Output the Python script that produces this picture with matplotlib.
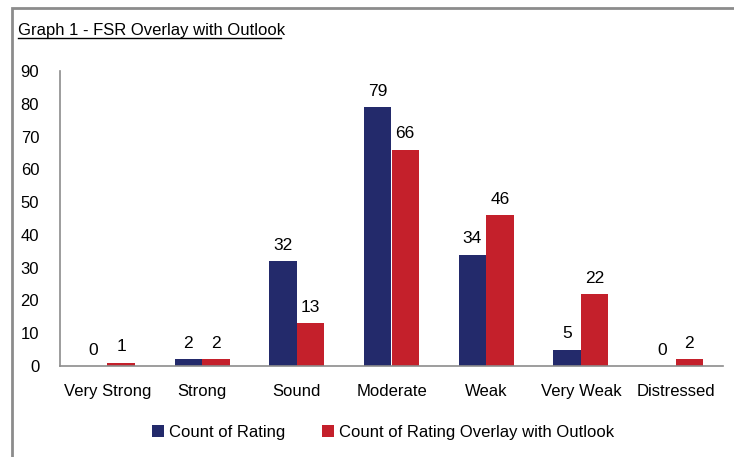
import numpy as np
import matplotlib.pyplot as plt
from matplotlib.patches import Rectangle

plt.rcParams['font.family'] = ['Liberation Sans', 'DejaVu Sans']

categories = ['Very Strong', 'Strong', 'Sound', 'Moderate', 'Weak', 'Very Weak', 'Distressed']
count_rating = [0, 2, 32, 79, 34, 5, 0]
count_outlook = [1, 2, 13, 66, 46, 22, 2]
yticks = [0, 10, 20, 30, 40, 50, 60, 70, 80, 90]

NAVY = '#232a6b'
RED = '#c4202b'
GREY = '#8c8c8c'

fig = plt.figure(figsize=(7.34, 4.57), dpi=100)
fig.patches.append(Rectangle((12/734, -0.1), 1.2, 1 - 8/457 + 0.1, transform=fig.transFigure,
                             fill=False, edgecolor=GREY, linewidth=2))

ax = fig.add_axes([60/734, 1 - 366/457, (723 - 60)/734, (366 - 71)/457])
x = np.arange(len(categories))
w = 0.29
b1 = ax.bar(x - w/2, count_rating, w, color=NAVY, label='Count of Rating')
b2 = ax.bar(x + w/2, count_outlook, w, color=RED, label='Count of Rating Overlay with Outlook')
for bars in (b1, b2):
    ax.bar_label(bars, padding=6, fontsize=12.5)

ax.set_xlim(-0.5, len(categories) - 0.5)
ax.set_ylim(0, 90)
ax.set_yticks(yticks)
ax.set_xticks(x)
ax.set_xticklabels(categories)
ax.tick_params(axis='both', length=0, labelsize=12)
ax.tick_params(axis='x', pad=13)
ax.tick_params(axis='y', pad=15)
for s in ['top', 'right']:
    ax.spines[s].set_visible(False)
for s in ['left', 'bottom']:
    ax.spines[s].set_color(GREY)
    ax.spines[s].set_linewidth(1.2)

fig.text(18/734, 1 - 35/457, 'Graph 1 - FSR Overlay with Outlook', fontsize=12, ha='left', va='baseline')
fig.add_artist(plt.Line2D([18/734, 281/734], [1 - 38/457, 1 - 38/457], color='black', linewidth=1))

fig.legend(loc='center', bbox_to_anchor=(383/734, 1 - 432/457), ncol=2, frameon=False,
           fontsize=12, handlelength=0.7, handleheight=0.7, handletextpad=0.3, columnspacing=2.2)

fig.savefig('out.png', dpi=100)
